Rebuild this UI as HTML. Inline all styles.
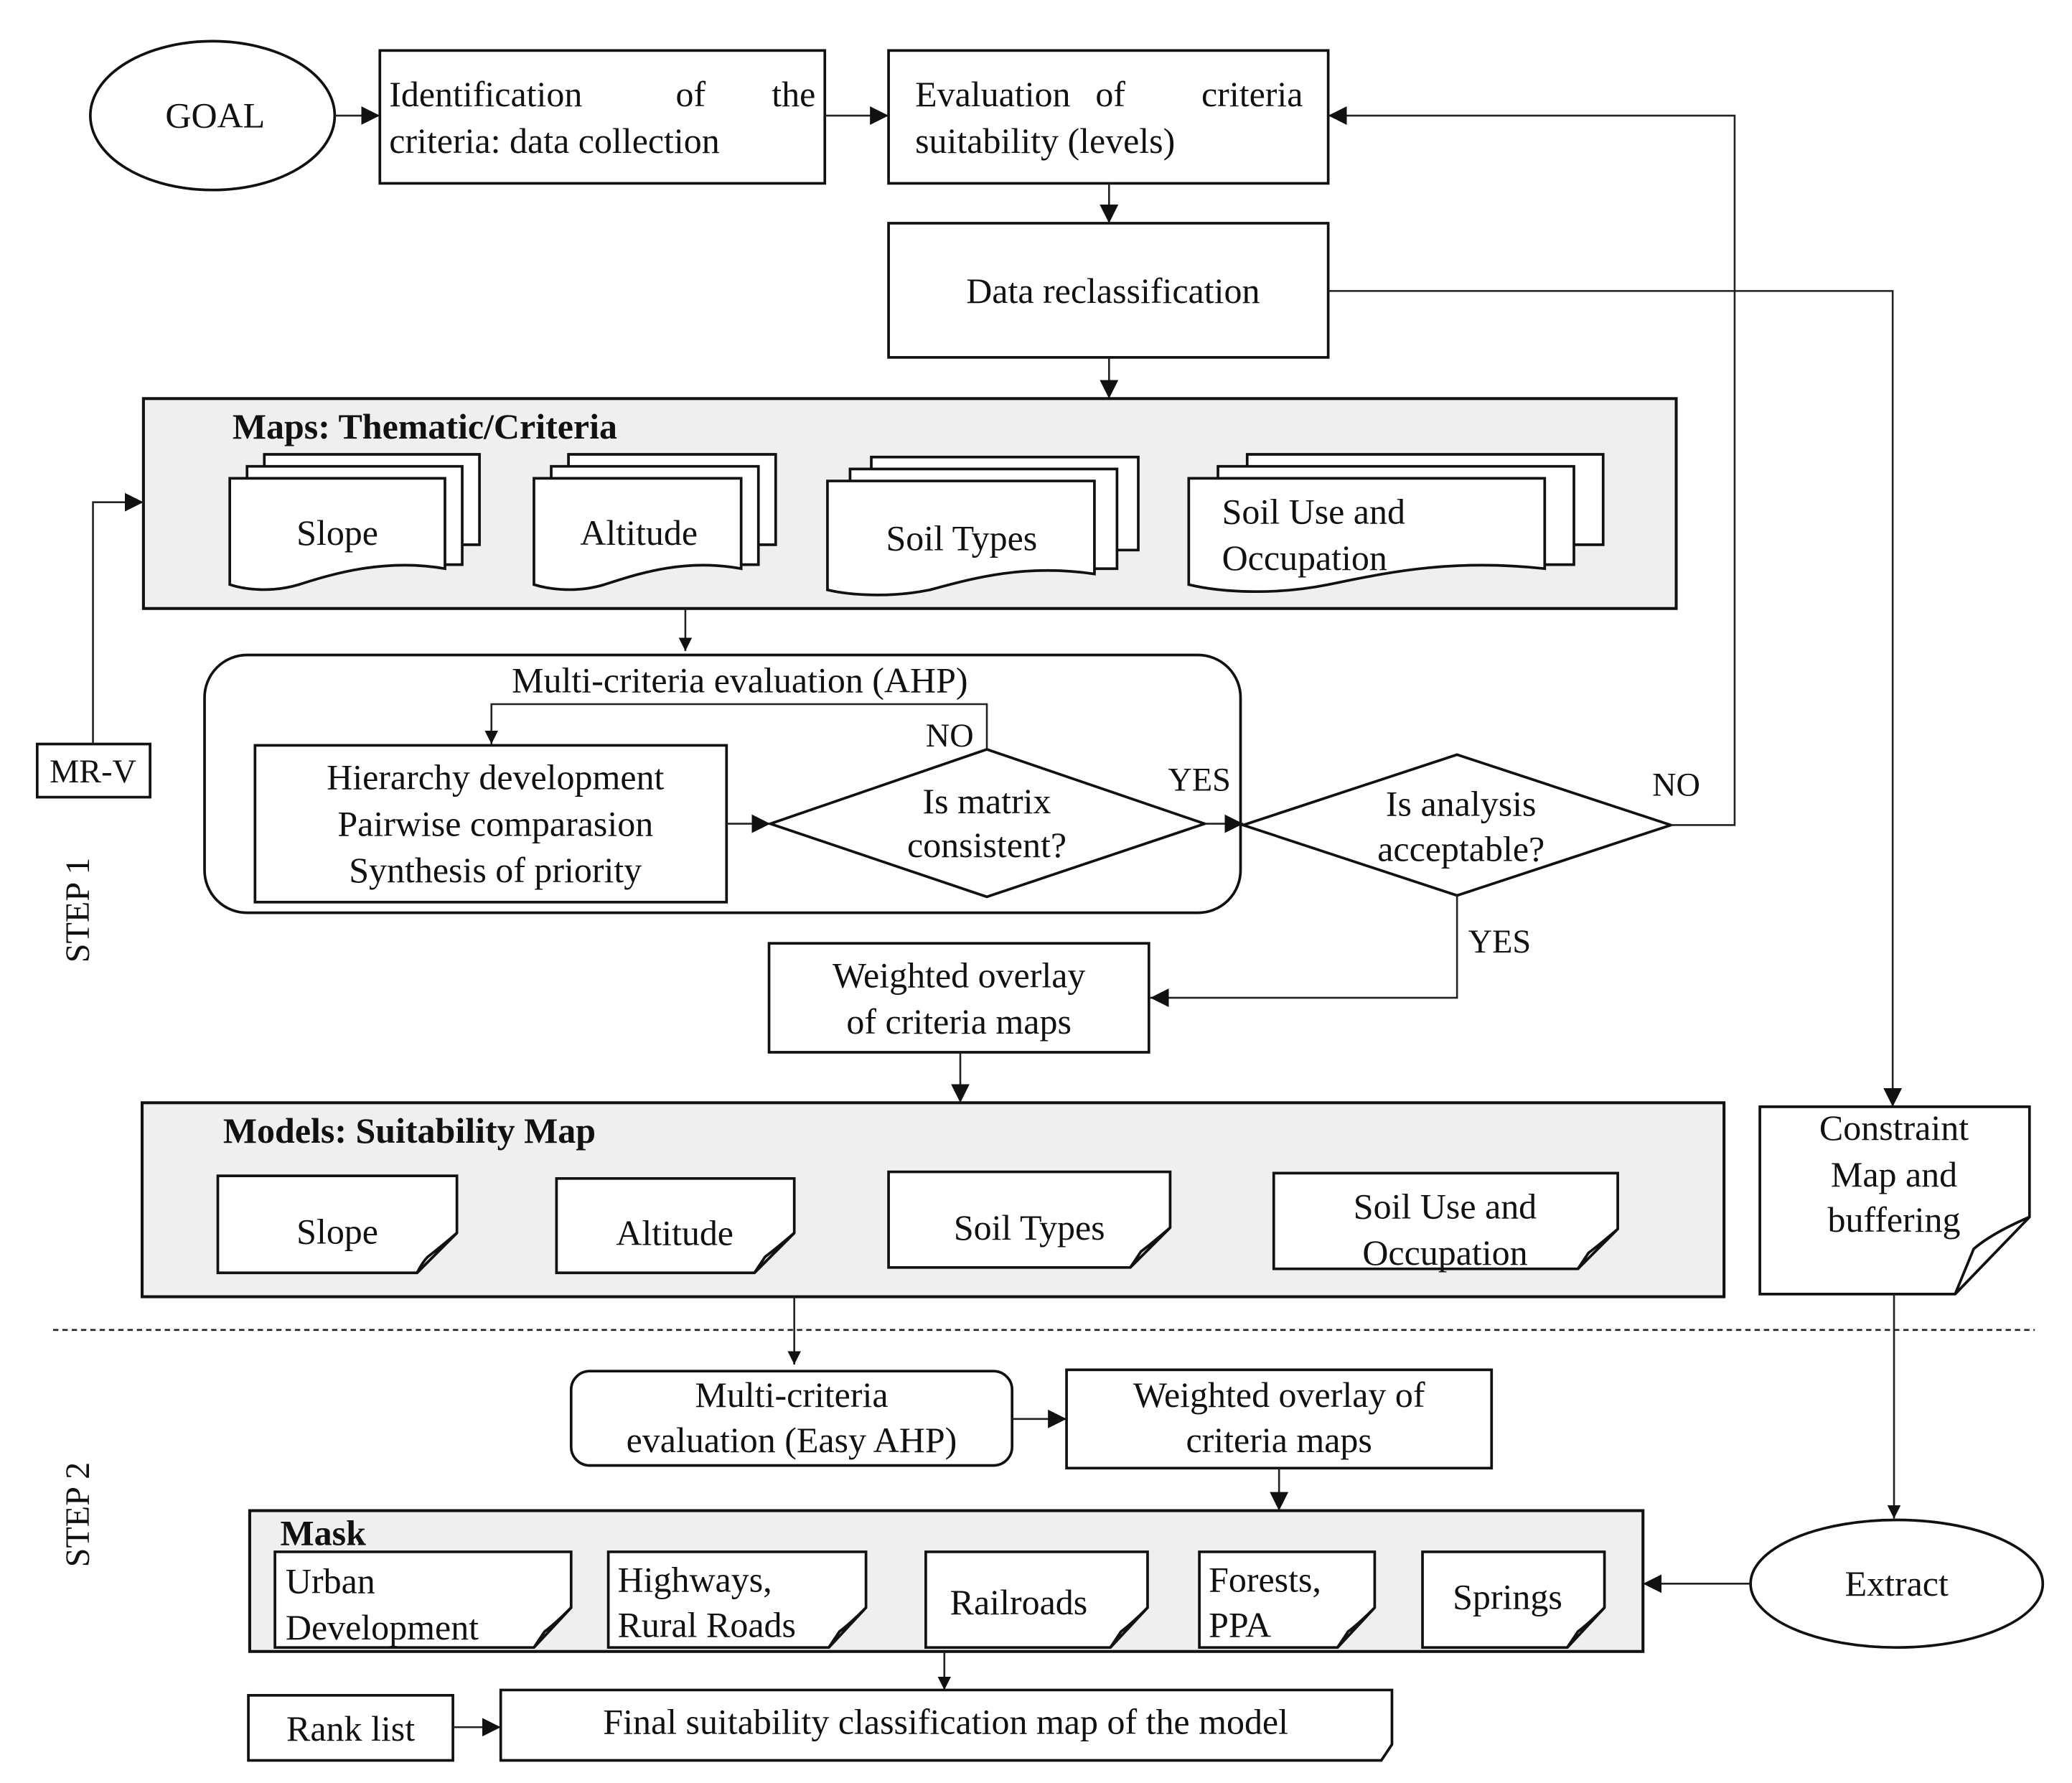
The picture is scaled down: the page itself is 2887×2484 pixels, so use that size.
<!DOCTYPE html>
<html><head><meta charset="utf-8"><style>
html,body{margin:0;padding:0;background:#fff}
svg{display:block}
text{font-family:"Liberation Serif",serif;font-size:27px;fill:#111}
.b{font-weight:bold}
.s{fill:#fff;stroke:#111;stroke-width:2}
.g{fill:#efefef;stroke:#111;stroke-width:2.2}
.l{fill:none;stroke:#222;stroke-width:1.4}
</style></head><body>
<svg width="2887" height="2484" viewBox="0 0 1560 1342" preserveAspectRatio="none" xmlns="http://www.w3.org/2000/svg">
<defs>
<marker id="a" viewBox="0 0 10 10" refX="10" refY="5" markerWidth="10" markerHeight="10" markerUnits="userSpaceOnUse" orient="auto"><path d="M0,0 L10,5 L0,10 Z" fill="#111"/></marker>
<marker id="A" viewBox="0 0 10 10" refX="10" refY="5" markerWidth="14" markerHeight="14" markerUnits="userSpaceOnUse" orient="auto"><path d="M0,0 L10,5 L0,10 Z" fill="#111"/></marker>
</defs>

<ellipse cx="160" cy="87" rx="92" ry="56" class="s"/>
<text x="162" y="96" text-anchor="middle">GOAL</text>
<rect x="286" y="38" width="335" height="100" class="s"/>
<text x="293" y="80">Identification</text>
<text x="520" y="80" text-anchor="middle">of</text>
<text x="614" y="80" text-anchor="end">the</text>
<text x="293" y="115">criteria: data collection</text>
<rect x="669" y="38" width="331" height="100" class="s"/>
<text x="689" y="80">Evaluation</text>
<text x="836" y="80" text-anchor="middle">of</text>
<text x="981" y="80" text-anchor="end">criteria</text>
<text x="689" y="115">suitability (levels)</text>
<line x1="252" y1="87" x2="286" y2="87" class="l" marker-end="url(#A)"/>
<line x1="621" y1="87" x2="669" y2="87" class="l" marker-end="url(#A)"/>
<line x1="835" y1="138" x2="835" y2="168" class="l" marker-end="url(#A)"/>
<rect x="669" y="168" width="331" height="101" class="s"/>
<text x="838" y="228" text-anchor="middle">Data reclassification</text>
<line x1="835" y1="269" x2="835" y2="300" class="l" marker-end="url(#A)"/>

<rect x="108" y="300" width="1154" height="158" class="g"/>
<text x="175" y="330" class="b">Maps: Thematic/Criteria</text>
<g class="s">
<path d="M199,342 H361 V410 H199 Z"/><path d="M186,351 H348 V425 H186 Z"/>
<path d="M173,360 H335 V428 C290,420 250,432 225,440 C205,446 185,444 173,440 Z"/>
<path d="M428,342 H584 V410 H428 Z"/><path d="M415,351 H571 V425 H415 Z"/>
<path d="M402,360 H558 V428 C515,420 480,432 455,440 C435,446 415,444 402,440 Z"/>
<path d="M656,344 H857 V414 H656 Z"/><path d="M640,353 H841 V428 H640 Z"/>
<path d="M623,362 H824 V432 C770,424 730,436 700,444 C670,450 640,448 623,444 Z"/>
<path d="M939,342 H1207 V410 H939 Z"/><path d="M917,351 H1185 V425 H917 Z"/>
<path d="M895,360 H1163 V428 C1090,420 1040,432 1000,440 C960,448 920,446 895,440 Z"/>
</g>
<text x="254" y="410" text-anchor="middle">Slope</text>
<text x="481" y="410" text-anchor="middle">Altitude</text>
<text x="724" y="414" text-anchor="middle">Soil Types</text>
<text x="920" y="394">Soil Use and</text>
<text x="920" y="429">Occupation</text>
<line x1="516" y1="458" x2="516" y2="490" class="l" marker-end="url(#a)"/>

<rect x="28" y="560" width="85" height="40" class="s"/>
<text x="70" y="589" text-anchor="middle" style="font-size:25px">MR-V</text>
<polyline points="70,560 70,378 108,378" class="l" marker-end="url(#A)"/>
<text transform="translate(67,685) rotate(-90)" text-anchor="middle" style="font-size:26px">STEP 1</text>

<rect x="154" y="493" width="780" height="194" rx="32" class="s"/>
<text x="557" y="521" text-anchor="middle">Multi-criteria evaluation (AHP)</text>
<polyline points="743,565 743,530 370,530 370,560" class="l" marker-end="url(#a)"/>
<text x="715" y="562" text-anchor="middle" style="font-size:25px">NO</text>
<rect x="192" y="561" width="355" height="118" class="s"/>
<text x="373" y="594" text-anchor="middle">Hierarchy development</text>
<text x="373" y="629" text-anchor="middle">Pairwise comparasion</text>
<text x="373" y="664" text-anchor="middle">Synthesis of priority</text>
<line x1="547" y1="620" x2="580" y2="620" class="l" marker-end="url(#A)"/>
<polygon points="580,620 743,564 907,620 743,675" class="s"/>
<text x="743" y="612" text-anchor="middle">Is matrix</text>
<text x="743" y="645" text-anchor="middle">consistent?</text>
<text x="903" y="595" text-anchor="middle" style="font-size:25px">YES</text>
<line x1="907" y1="620" x2="936" y2="620" class="l" marker-end="url(#A)"/>
<polygon points="936,621 1097,568 1258,621 1097,674" class="s"/>
<text x="1100" y="614" text-anchor="middle">Is analysis</text>
<text x="1100" y="648" text-anchor="middle">acceptable?</text>
<text x="1262" y="599" text-anchor="middle" style="font-size:25px">NO</text>
<polyline points="1258,621 1306,621 1306,87 1000,87" class="l" marker-end="url(#A)"/>
<text x="1129" y="717" text-anchor="middle" style="font-size:25px">YES</text>
<polyline points="1097,674 1097,751 866,751" class="l" marker-end="url(#A)"/>
<rect x="579" y="710" width="286" height="82" class="s"/>
<text x="722" y="743" text-anchor="middle">Weighted overlay</text>
<text x="722" y="778" text-anchor="middle">of criteria maps</text>
<line x1="723" y1="792" x2="723" y2="830" class="l" marker-end="url(#A)"/>
<polyline points="1000,219 1425,219 1425,833" class="l" marker-end="url(#A)"/>

<rect x="107" y="830" width="1191" height="146" class="g"/>
<text x="168" y="860" class="b">Models: Suitability Map</text>
<g class="s">
<path d="M164,885 H344 V928 L314,958 H164 Z"/><path d="M314,958 L344,928 Q330,940 322,946 Q318,950 314,958" />
<path d="M419,887 H598 V928 L568,958 H419 Z"/><path d="M568,958 L598,928 Q584,940 576,946 Z"/>
<path d="M669,882 H881 V924 L851,954 H669 Z"/><path d="M851,954 L881,924 Q867,936 859,942 Z"/>
<path d="M959,883 H1218 V925 L1188,955 H959 Z"/><path d="M1188,955 L1218,925 Q1204,937 1196,943 Z"/>
<path d="M1325,833 H1528 V916 L1472,974 H1325 Z"/><path d="M1472,974 L1528,916 Q1500,928 1486,940 Z"/>
</g>
<text x="254" y="936" text-anchor="middle">Slope</text>
<text x="508" y="937" text-anchor="middle">Altitude</text>
<text x="775" y="933" text-anchor="middle">Soil Types</text>
<text x="1088" y="917" text-anchor="middle">Soil Use and</text>
<text x="1088" y="952" text-anchor="middle">Occupation</text>
<text x="1426" y="858" text-anchor="middle">Constraint</text>
<text x="1426" y="893" text-anchor="middle">Map and</text>
<text x="1426" y="927" text-anchor="middle">buffering</text>

<line x1="40" y1="1001" x2="1532" y2="1001" stroke="#222" stroke-width="1.4" stroke-dasharray="4,3"/>
<line x1="598" y1="976" x2="598" y2="1027" class="l" marker-end="url(#a)"/>
<line x1="1426" y1="974" x2="1426" y2="1143" class="l" marker-end="url(#a)"/>

<text transform="translate(67,1140) rotate(-90)" text-anchor="middle" style="font-size:26px">STEP 2</text>
<rect x="430" y="1032" width="332" height="71" rx="14" class="s"/>
<text x="596" y="1059" text-anchor="middle">Multi-criteria</text>
<text x="596" y="1093" text-anchor="middle">evaluation (Easy AHP)</text>
<line x1="762" y1="1068" x2="803" y2="1068" class="l" marker-end="url(#A)"/>
<rect x="803" y="1031" width="320" height="74" class="s"/>
<text x="963" y="1059" text-anchor="middle">Weighted overlay of</text>
<text x="963" y="1093" text-anchor="middle">criteria maps</text>
<line x1="963" y1="1105" x2="963" y2="1137" class="l" marker-end="url(#A)"/>

<rect x="188" y="1137" width="1049" height="106" class="g"/>
<text x="211" y="1163" class="b">Mask</text>
<g class="s">
<path d="M207,1168 H430 V1210 L402,1240 H207 Z"/><path d="M402,1240 L430,1210 Q418,1222 410,1228 Z"/>
<path d="M458,1168 H652 V1210 L624,1240 H458 Z"/><path d="M624,1240 L652,1210 Q640,1222 632,1228 Z"/>
<path d="M697,1168 H864 V1210 L836,1240 H697 Z"/><path d="M836,1240 L864,1210 Q852,1222 844,1228 Z"/>
<path d="M903,1168 H1035 V1210 L1007,1240 H903 Z"/><path d="M1007,1240 L1035,1210 Q1023,1222 1015,1228 Z"/>
<path d="M1071,1168 H1208 V1210 L1180,1240 H1071 Z"/><path d="M1180,1240 L1208,1210 Q1196,1222 1188,1228 Z"/>
</g>
<text x="215" y="1199">Urban</text>
<text x="215" y="1234">Development</text>
<text x="465" y="1198">Highways,</text>
<text x="465" y="1232">Rural Roads</text>
<text x="767" y="1215" text-anchor="middle">Railroads</text>
<text x="910" y="1198">Forests,</text>
<text x="910" y="1232">PPA</text>
<text x="1135" y="1211" text-anchor="middle">Springs</text>
<ellipse cx="1428" cy="1192" rx="110" ry="48" class="s"/>
<text x="1428" y="1201" text-anchor="middle">Extract</text>
<line x1="1318" y1="1192" x2="1237" y2="1192" class="l" marker-end="url(#A)"/>
<line x1="711" y1="1243" x2="711" y2="1272" class="l" marker-end="url(#a)"/>
<rect x="187" y="1276" width="154" height="49" class="s"/>
<text x="264" y="1310" text-anchor="middle">Rank list</text>
<line x1="341" y1="1300" x2="377" y2="1300" class="l" marker-end="url(#A)"/>
<path d="M377,1272 H1048 V1313 L1040,1325 H377 Z" class="s"/>
<text x="712" y="1305" text-anchor="middle">Final suitability classification map of the model</text>
</svg>
</body></html>
